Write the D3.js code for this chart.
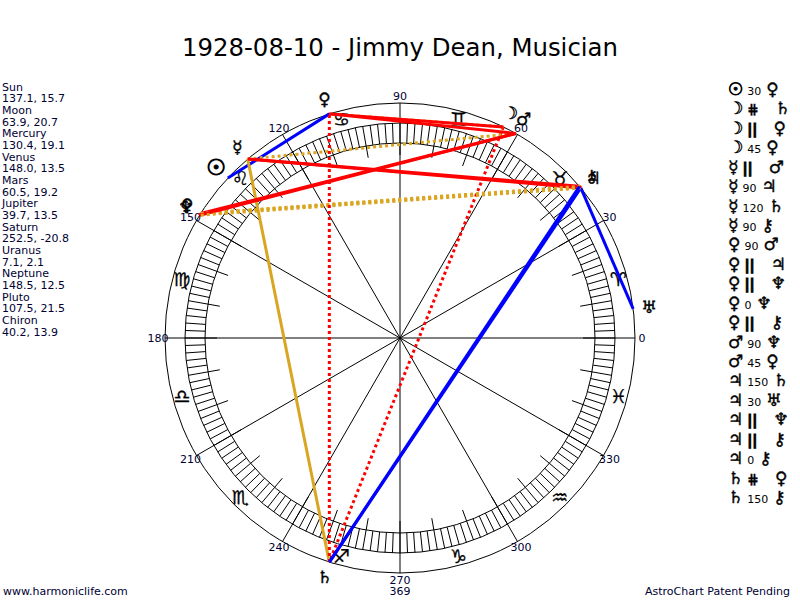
<!DOCTYPE html>
<html>
<head>
<meta charset="utf-8">
<script src="https://cdn.jsdelivr.net/npm/d3@7"></script>
<style>
body { margin: 0; background: #fff; }
text { font-family: "DejaVu Sans", Verdana, sans-serif; }
</style>
</head>
<body>
<div id="chart"></div>
<script>
// chart data
let title = "1928-08-10 - Jimmy Dean, Musician";
let planet_names = ["Sun", "Moon", "Mercury", "Venus", "Mars", "Jupiter", "Saturn", "Uranus", "Neptune", "Pluto", "Chiron"];
let planet_glyphs = ["☉", "☽", "☿", "♀", "♂", "♃", "♄", "♅", "♆", "♀", "⚷"];
let longitudes = [137.1, 63.9, 130.4, 148.0, 60.5, 39.7, 252.5, 7.1, 148.5, 107.5, 40.2];
let declinations = [15.7, 20.7, 19.1, 13.5, 19.2, 13.5, -20.8, 2.1, 12.5, 21.5, 13.9];
let sign_glyphs = ["♈", "♉", "♊", "♋", "♌", "♍", "♎", "♏", "♐", "♑", "♒", "♓"];
let degree_labels = [0, 30, 60, 90, 120, 150, 180, 210, 240, 270, 300, 330];

let aspect_from = ["Sun", "Moon", "Moon", "Moon", "Mercury", "Mercury", "Mercury", "Mercury", "Venus", "Venus", "Venus",
                   "Venus", "Venus", "Mars", "Mars", "Jupiter", "Jupiter", "Jupiter", "Jupiter", "Jupiter", "Saturn", "Saturn"];
let aspect_type = ["30", "cpar", "par", "45", "par", "90", "120", "90", "90", "par", "par",
                   "0", "par", "90", "45", "150", "30", "par", "par", "0", "cpar", "150"];
let aspect_to = ["Pluto", "Saturn", "Pluto", "Pluto", "Mars", "Jupiter", "Saturn", "Chiron", "Mars", "Jupiter", "Neptune",
                 "Neptune", "Chiron", "Neptune", "Pluto", "Saturn", "Uranus", "Neptune", "Chiron", "Chiron", "Pluto", "Chiron"];

let line_style = {
    "0":    {color: "#ff0000", dash: null},
    "30":   {color: "#0000ff", dash: null},
    "45":   {color: "#ff0000", dash: null},
    "90":   {color: "#ff0000", dash: null},
    "120":  {color: "#daa520", dash: null},
    "150":  {color: "#0000ff", dash: null},
    "par":  {color: "#daa520", dash: "3,3"},
    "cpar": {color: "#ff0000", dash: "3,3"}
};

const cx = 400, cy = 338;
const r_outer = 235, r_ring_out = 215, r_ring_in = 195, r_tick = 183;
const r_label = 242, r_sign = 226, r_glyph = 251;
const ink = "#000033";

let svg = d3.select("#chart").append("svg")
    .attr("width", 800)
    .attr("height", 600);

let ang = d3.scaleLinear().domain([0, 360]).range([0, 2 * Math.PI]);
function px(deg, r) { return cx + r * Math.cos(ang(deg)); }
function py(deg, r) { return cy - r * Math.sin(ang(deg)); }
function lon(name) { return longitudes[planet_names.indexOf(name)]; }
function is_par(t) { return t == "par" || t == "cpar"; }

// title
svg.append("text")
    .attr("x", 400).attr("y", 56)
    .attr("text-anchor", "middle")
    .style("font-size", "24.4px")
    .attr("fill", "#000")
    .text(title);

// wheel
let wheel = svg.append("g").attr("stroke", "#000").attr("stroke-width", 1).attr("fill", "none");

wheel.append("circle").attr("cx", cx).attr("cy", cy).attr("r", r_outer);
wheel.append("circle").attr("cx", cx).attr("cy", cy).attr("r", r_ring_out);
wheel.append("circle").attr("cx", cx).attr("cy", cy).attr("r", r_ring_in);

wheel.selectAll("line.ring")
    .data(d3.range(0, 360, 2))
    .join("line")
    .attr("class", "ring")
    .attr("x1", d => px(d, r_ring_in)).attr("y1", d => py(d, r_ring_in))
    .attr("x2", d => px(d, r_ring_out)).attr("y2", d => py(d, r_ring_out));

wheel.selectAll("line.tick")
    .data(d3.range(0, 360, 10))
    .join("line")
    .attr("class", "tick")
    .attr("x1", d => px(d, r_tick)).attr("y1", d => py(d, r_tick))
    .attr("x2", d => px(d, r_ring_in)).attr("y2", d => py(d, r_ring_in));

wheel.selectAll("line.spoke")
    .data(degree_labels)
    .join("line")
    .attr("class", "spoke")
    .attr("x1", cx).attr("y1", cy)
    .attr("x2", d => px(d, r_outer)).attr("y2", d => py(d, r_outer));

// degree labels
svg.append("g")
    .selectAll("text")
    .data(degree_labels)
    .join("text")
    .attr("x", d => px(d, r_label))
    .attr("y", d => py(d, r_label))
    .attr("dy", "0.35em")
    .attr("text-anchor", "middle")
    .style("font-size", "11px")
    .attr("fill", ink)
    .text(d => d);

// zodiac signs
svg.append("g")
    .selectAll("text")
    .data(sign_glyphs)
    .join("text")
    .attr("x", (d, i) => px(15 + i * 30, r_sign))
    .attr("y", (d, i) => py(15 + i * 30, r_sign))
    .attr("dy", "0.35em")
    .attr("text-anchor", "middle")
    .style("font-size", "19px")
    .attr("fill", "#000")
    .attr("stroke", "#000")
    .attr("stroke-width", 0.3)
    .text(d => d);

// aspect lines
svg.append("g")
    .selectAll("line")
    .data(aspect_type.map((t, i) => i))
    .join("line")
    .attr("x1", i => px(lon(aspect_from[i]), r_outer))
    .attr("y1", i => py(lon(aspect_from[i]), r_outer))
    .attr("x2", i => px(lon(aspect_to[i]), r_outer))
    .attr("y2", i => py(lon(aspect_to[i]), r_outer))
    .attr("stroke", i => line_style[aspect_type[i]].color)
    .attr("stroke-dasharray", i => line_style[aspect_type[i]].dash)
    .attr("stroke-width", 3);

// planets round the wheel
svg.append("g")
    .selectAll("text")
    .data(planet_names)
    .join("text")
    .attr("x", (d, i) => px(longitudes[i], r_glyph))
    .attr("y", (d, i) => py(longitudes[i], r_glyph))
    .attr("dy", "0.35em")
    .attr("text-anchor", "middle")
    .style("font-size", d => d == "Sun" ? "22px" : "17px")
    .attr("fill", "#000")
    .attr("stroke", "#000")
    .attr("stroke-width", d => d == "Sun" ? 1 : 0.4)
    .text((d, i) => planet_glyphs[i]);

// planet positions list
let left_lines = [];
planet_names.forEach(function(d, i) {
    left_lines.push(d);
    left_lines.push(longitudes[i].toFixed(1) + ", " + declinations[i].toFixed(1));
});
svg.append("g")
    .selectAll("text")
    .data(left_lines)
    .join("text")
    .attr("x", 2)
    .attr("y", (d, i) => 90.5 + i * 11.67)
    .style("font-size", "11px")
    .attr("fill", ink)
    .text(d => d);

// aspect list
function glyph(name) { return planet_glyphs[planet_names.indexOf(name)]; }
let rows = svg.append("g")
    .selectAll("text")
    .data(aspect_type.map((t, i) => i))
    .join("text")
    .attr("x", 728)
    .attr("y", i => 95 + i * 19.43)
    .attr("fill", "#000");

rows.append("tspan")
    .style("font-size", "17px")
    .attr("stroke", "#000")
    .attr("stroke-width", i => aspect_from[i] == "Sun" ? 0.9 : 0.4)
    .text(i => glyph(aspect_from[i]));
rows.append("tspan")
    .attr("dx", 4)
    .style("font-size", i => is_par(aspect_type[i]) ? "14px" : "11px")
    .style("font-weight", i => is_par(aspect_type[i]) ? "bold" : "normal")
    .attr("stroke", i => is_par(aspect_type[i]) ? "#000" : "none")
    .attr("stroke-width", i => aspect_type[i] == "cpar" ? 0.3 : 1)
    .text(i => aspect_type[i] == "par" ? "||" : aspect_type[i] == "cpar" ? "⋕" : aspect_type[i]);
rows.append("tspan")
    .attr("dx", i => is_par(aspect_type[i]) ? 16 : 5)
    .style("font-size", "17px")
    .attr("stroke", "#000")
    .attr("stroke-width", 0.4)
    .text(i => glyph(aspect_to[i]));

// footer
svg.append("text")
    .attr("x", 3).attr("y", 595)
    .style("font-size", "11px")
    .attr("fill", ink)
    .text("www.harmoniclife.com");
svg.append("text")
    .attr("x", 400).attr("y", 595)
    .attr("text-anchor", "middle")
    .style("font-size", "11px")
    .attr("fill", ink)
    .text("369");
svg.append("text")
    .attr("x", 790).attr("y", 595)
    .attr("text-anchor", "end")
    .style("font-size", "11px")
    .attr("fill", ink)
    .text("AstroChart Patent Pending");
</script>
</body>
</html>
